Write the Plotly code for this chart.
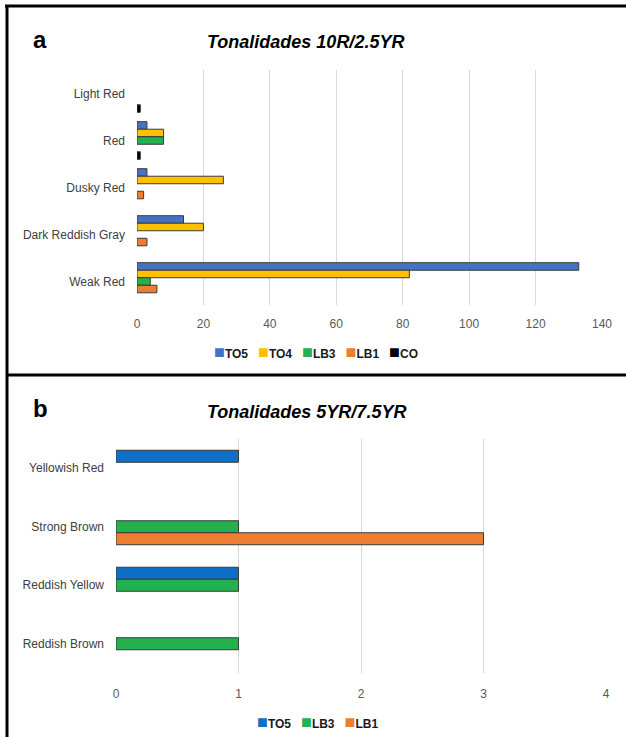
import plotly.graph_objects as go

# ---- Data ----
cats_a = ["Weak Red", "Dark Reddish Gray", "Dusky Red", "Red", "Light Red"]
series_a = ["TO5", "TO4", "LB3", "LB1", "CO"]
TO5_a = [133, 14, 3, 3, None]
TO4_a = [82, 20, 26, 8, None]
LB3_a = [4, None, None, 8, None]
LB1_a = [6, 3, 2, None, None]
CO_a = [None, None, None, 1, 1]
ticks_a = [0, 20, 40, 60, 80, 100, 120, 140]

cats_b = ["Reddish Brown", "Reddish Yellow", "Strong Brown", "Yellowish Red"]
series_b = ["TO5", "LB3", "LB1"]
TO5_b = [None, 1, None, 1]
LB3_b = [1, 1, 1, None]
LB1_b = [None, None, 3, None]
ticks_b = [0, 1, 2, 3, 4]

title_a = "Tonalidades 10R/2.5YR"
title_b = "Tonalidades 5YR/7.5YR"

# ---- Style ----
W, H = 626, 737
FONT = "Liberation Sans, Arial, sans-serif"
colors_a = ["#4472C4", "#FFC000", "#22B14C", "#ED7D31", "#000000"]
colors_b = ["#0F6FC6", "#22B14C", "#ED7D31"]
outline = dict(color="#3a3a3a", width=1)

fig = go.Figure()

wa = 0.16  # slot width (category units) panel a
vals_a = [TO5_a, TO4_a, LB3_a, LB1_a, CO_a]
for i, (name, vals, col) in enumerate(zip(series_a, vals_a, colors_a)):
    fig.add_trace(go.Bar(
        y=cats_a, x=vals, name=name, orientation="h",
        marker=dict(color=col, line=outline),
        width=wa, offset=(1.5 - i) * wa,
        xaxis="x", yaxis="y", showlegend=False,
    ))

wb = 0.205
vals_b = [TO5_b, LB3_b, LB1_b]
for i, (name, vals, col) in enumerate(zip(series_b, vals_b, colors_b)):
    fig.add_trace(go.Bar(
        y=cats_b, x=vals, name=name, orientation="h",
        marker=dict(color=col, line=outline),
        width=wb, offset=(0.5 - i) * wb,
        xaxis="x2", yaxis="y2", showlegend=False,
    ))

def px_x(p):
    return p / W

def px_y(p):
    return 1 - p / H

def legend_text(names, cols):
    parts = [f"<span style='color:{c};font-size:18px'>■</span>{n}" for n, c in zip(names, cols)]
    return "\u00a0\u00a0\u00a0".join(parts)

tickfont = dict(family=FONT, size=12, color="#595959")
catfont = dict(family=FONT, size=12, color="#404040")
legfont = dict(family=FONT, size=12, color="#1a1a1a", weight="bold")
titlefont = dict(family=FONT, size=18, color="black", weight="bold", style="italic")
letterfont = dict(family=FONT, size=24, color="black", weight="bold")

def ann(text, x, y, font):
    return dict(text=text, x=px_x(x), y=px_y(y), xref="paper", yref="paper",
                xanchor="center", yanchor="middle", showarrow=False, font=font)

fig.update_layout(
    width=W, height=H,
    margin=dict(l=0, r=0, t=0, b=0, autoexpand=False),
    paper_bgcolor="white", plot_bgcolor="white",
    barmode="overlay",
    showlegend=False,
    xaxis=dict(domain=[px_x(137), px_x(602)], range=[0, 140], tickvals=ticks_a,
               showgrid=True, gridcolor="#d9d9d9", gridwidth=1, zeroline=False,
               showline=False, ticks="", tickfont=tickfont, ticklabelstandoff=10,
               anchor="y", automargin=False),
    yaxis=dict(domain=[px_y(305), px_y(70)], type="category",
               categoryorder="array", categoryarray=cats_a, range=[-0.5, 4.5],
               showgrid=False, zeroline=False, showline=False, ticks="",
               tickfont=catfont, ticklabelstandoff=11, anchor="x", automargin=False),
    xaxis2=dict(domain=[px_x(116), px_x(606)], range=[0, 4], tickvals=ticks_b,
                showgrid=True, gridcolor="#d9d9d9", gridwidth=1, zeroline=False,
                showline=False, ticks="", tickfont=tickfont, ticklabelstandoff=12,
                anchor="y2", automargin=False),
    yaxis2=dict(domain=[px_y(673), px_y(439)], type="category",
                categoryorder="array", categoryarray=cats_b, range=[-0.5, 3.5],
                showgrid=False, zeroline=False, showline=False, ticks="",
                tickfont=catfont, ticklabelstandoff=11, anchor="x2", automargin=False),
    annotations=[
        ann("a", 40, 40, letterfont),
        ann(title_a, 305, 42, titlefont),
        ann("b", 40, 408, letterfont),
        ann(title_b, 306, 412, titlefont),
        ann(legend_text(series_a, colors_a), 316, 352, legfont),
        ann(legend_text(series_b, colors_b), 317, 722, legfont),
    ],
    shapes=[
        dict(type="line", xref="paper", yref="paper", x0=px_x(5), x1=1, y0=px_y(6), y1=px_y(6),
             line=dict(color="black", width=3)),
        dict(type="line", xref="paper", yref="paper", x0=px_x(7), x1=px_x(7), y0=px_y(5), y1=0,
             line=dict(color="black", width=3)),
        dict(type="line", xref="paper", yref="paper", x0=px_x(7), x1=1, y0=px_y(375), y1=px_y(375),
             line=dict(color="black", width=3)),
    ],
)

fig.write_html(
    "out.html",
    config={"displayModeBar": False, "staticPlot": True},
    post_script="document.body.style.margin='0';document.body.style.overflow='hidden';",
)
